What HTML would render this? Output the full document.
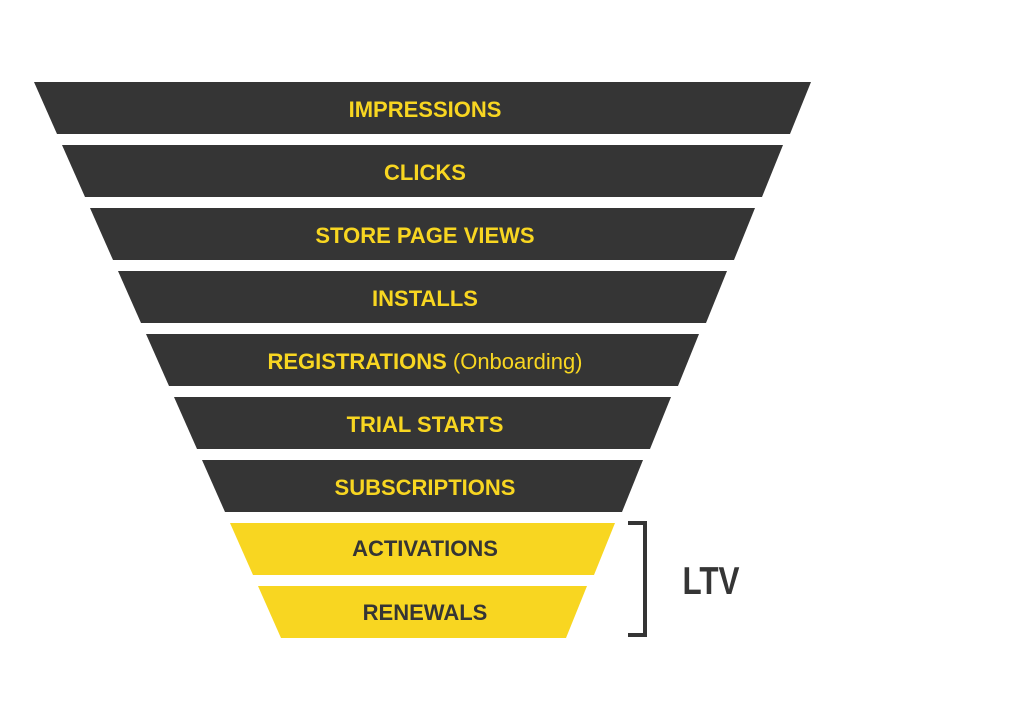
<!DOCTYPE html>
<html><head><style>
body{margin:0;width:1024px;height:723px;background:#fff;overflow:hidden}
svg text{font-family:"Liberation Sans",sans-serif;font-weight:bold;text-anchor:middle}
</style></head><body>
<svg width="1024" height="723" viewBox="0 0 1024 723">
<g fill="#353535">
<polygon points="34,82 811,82 790,134 57,134"/>
<polygon points="62,145 783,145 762,197 85,197"/>
<polygon points="90,208 755,208 734,260 113,260"/>
<polygon points="118,271 727,271 706,323 141,323"/>
<polygon points="146,334 699,334 678,386 169,386"/>
<polygon points="174,397 671,397 650,449 197,449"/>
<polygon points="202,460 643,460 622,512 225,512"/>
</g>
<g fill="#f8d621">
<polygon points="230,523 615,523 594,575 253,575"/>
<polygon points="258,586 587,586 566,638 281,638"/>
</g>
<g fill="#f8d621" font-size="22">
<text x="425" y="117">IMPRESSIONS</text>
<text x="425" y="180">CLICKS</text>
<text x="425" y="243">STORE PAGE VIEWS</text>
<text x="425" y="306">INSTALLS</text>
<text x="425" y="369">REGISTRATIONS <tspan font-weight="normal">(Onboarding)</tspan></text>
<text x="425" y="432">TRIAL STARTS</text>
<text x="425" y="495">SUBSCRIPTIONS</text>
</g>
<g fill="#353535" font-size="22">
<text x="425" y="556">ACTIVATIONS</text>
<text x="425" y="620">RENEWALS</text>
</g>
<path d="M628,523 H645 V635 H628" fill="none" stroke="#353535" stroke-width="4"/>
<text x="711" y="594" font-size="39" fill="#353535" textLength="57" lengthAdjust="spacingAndGlyphs">LTV</text>
</svg>
</body></html>
